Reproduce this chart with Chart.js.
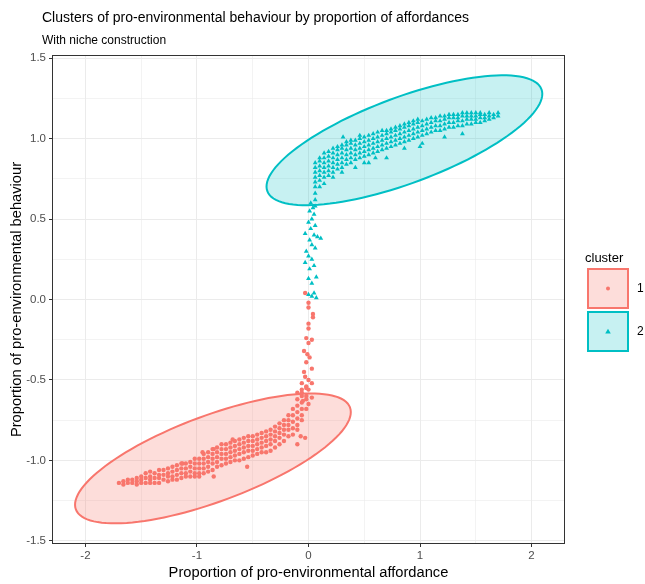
<!DOCTYPE html>
<html>
<head>
<meta charset="utf-8">
<script src="https://cdn.jsdelivr.net/npm/chart.js@4.4.1/dist/chart.umd.min.js"></script>
<style>
  html, body { margin: 0; padding: 0; background: #fff; }
  #wrap { width: 645px; height: 584px; }
</style>
</head>
<body>
<div id="wrap"><canvas id="clusterChart" width="645" height="584"></canvas></div>
<script>
// Cluster 1 (red): columns of the lower band, x then the y values in that column
const c1ColX = [-1.70, -1.66, -1.62, -1.58, -1.54, -1.50, -1.46, -1.42, -1.38, -1.34, -1.30, -1.26, -1.22, -1.18,
    -1.14, -1.10, -1.06, -1.02, -0.98, -0.94, -0.90, -0.86, -0.82, -0.78, -0.74, -0.70, -0.66, -0.62,
    -0.58, -0.54, -0.50, -0.46, -0.42, -0.38, -0.34, -0.30, -0.26, -0.22, -0.18, -0.14, -0.10, -0.06, -0.02];
const c1ColY = [
    [-1.14], [-1.13, -1.15], [-1.12, -1.14], [-1.12, -1.14], [-1.11, -1.13, -1.15], [-1.10, -1.12, -1.14],
    [-1.08, -1.11, -1.14], [-1.07, -1.10, -1.12, -1.14], [-1.08, -1.11, -1.14], [-1.06, -1.09, -1.11, -1.14],
    [-1.06, -1.09, -1.12], [-1.05, -1.08, -1.10, -1.13], [-1.04, -1.07, -1.10, -1.12], [-1.03, -1.06, -1.09, -1.12],
    [-1.02, -1.05, -1.08, -1.11], [-1.02, -1.05, -1.08, -1.10], [-1.01, -1.04, -1.07, -1.10],
    [-0.99, -1.02, -1.05, -1.08, -1.10], [-0.99, -1.02, -1.05, -1.08, -1.10], [-0.96, -0.99, -1.02, -1.05, -1.08],
    [-0.95, -0.98, -1.01, -1.04, -1.07], [-0.93, -0.96, -0.99, -1.02, -1.06], [-0.92, -0.95, -0.98, -1.01, -1.04],
    [-0.90, -0.93, -0.96, -0.99, -1.03], [-0.90, -0.93, -0.96, -0.99, -1.02], [-0.89, -0.92, -0.95, -0.98, -1.01],
    [-0.88, -0.91, -0.94, -0.97, -1.00], [-0.87, -0.90, -0.93, -0.96, -1.00], [-0.86, -0.89, -0.92, -0.95, -0.99],
    [-0.85, -0.88, -0.91, -0.94, -0.98], [-0.85, -0.88, -0.91, -0.94, -0.97], [-0.84, -0.87, -0.90, -0.93, -0.96],
    [-0.83, -0.86, -0.89, -0.92, -0.95], [-0.82, -0.85, -0.88, -0.91, -0.95], [-0.81, -0.84, -0.87, -0.90, -0.94],
    [-0.79, -0.82, -0.85, -0.88, -0.92], [-0.77, -0.80, -0.83, -0.86, -0.90], [-0.75, -0.78, -0.81, -0.84, -0.88],
    [-0.72, -0.75, -0.78, -0.81, -0.85], [-0.68, -0.72, -0.76, -0.80, -0.84],
    [-0.58, -0.62, -0.66, -0.70, -0.74, -0.78, -0.81], [-0.52, -0.56, -0.60, -0.64, -0.68, -0.72, -0.75],
    [-0.55, -0.62, -0.68]
];
// Cluster 1 stray points (stem going up to 0 and a few outliers)
const c1LooseX = [-0.03, 0.00, 0.00, 0.04, 0.04, 0.00, 0.00, -0.02, 0.03, 0.00, -0.04, -0.01, 0.01, -0.02, 0.03,
    -0.04, -0.03, 0.00, 0.03, -0.02, 0.00, -0.06, -0.02, 0.03, -0.05, 0.00,
    -0.85, -0.68, -0.85, -0.95, -1.13, -0.07, -0.10, -0.03, -0.55];
const c1LooseY = [0.04, -0.02, -0.05, -0.09, -0.11, -0.15, -0.18, -0.24, -0.25, -0.27, -0.32, -0.34, -0.36, -0.39, -0.43,
    -0.45, -0.48, -0.50, -0.52, -0.54, -0.56, -0.58, -0.60, -0.61, -0.63, -0.65,
    -1.10, -0.87, -0.93, -0.95, -1.02, -0.85, -0.90, -0.86, -1.04];

// Cluster 2 (cyan): columns of the upper band
const c2ColX = [0.06, 0.10, 0.14, 0.18, 0.22, 0.26, 0.30, 0.34, 0.38, 0.42, 0.46, 0.50, 0.54, 0.58, 0.62, 0.66,
    0.70, 0.74, 0.78, 0.82, 0.86, 0.90, 0.94, 0.98, 1.02, 1.06, 1.10, 1.14, 1.18, 1.22, 1.26, 1.30, 1.34,
    1.38, 1.42, 1.46, 1.50, 1.54, 1.58, 1.62, 1.66, 1.70];
const c2ColY = [
    [0.58, 0.62, 0.66, 0.70, 0.73, 0.76, 0.79, 0.82, 0.85], [0.70, 0.74, 0.77, 0.80, 0.83, 0.86, 0.88],
    [0.72, 0.76, 0.79, 0.82, 0.85, 0.88, 0.91], [0.77, 0.80, 0.83, 0.86, 0.89, 0.92],
    [0.76, 0.79, 0.82, 0.85, 0.88, 0.91, 0.94], [0.81, 0.84, 0.87, 0.90, 0.93, 0.95],
    [0.79, 0.82, 0.85, 0.88, 0.91, 0.94, 0.96], [0.84, 0.87, 0.90, 0.93, 0.96, 0.98],
    [0.85, 0.88, 0.91, 0.94, 0.97, 0.99], [0.82, 0.87, 0.90, 0.93, 0.96, 0.99],
    [0.88, 0.91, 0.94, 0.97, 1.00, 1.02], [0.89, 0.92, 0.95, 0.98, 1.01],
    [0.85, 0.90, 0.93, 0.96, 0.99, 1.02], [0.91, 0.94, 0.97, 1.00, 1.03],
    [0.92, 0.95, 0.98, 1.01, 1.04], [0.93, 0.96, 0.99, 1.02, 1.05],
    [0.88, 0.94, 0.97, 1.00, 1.03, 1.05], [0.95, 0.98, 1.01, 1.04, 1.06],
    [0.96, 0.99, 1.02, 1.05, 1.07], [0.97, 1.00, 1.03, 1.06, 1.08],
    [0.94, 0.98, 1.01, 1.04, 1.07, 1.09], [0.99, 1.02, 1.05, 1.08, 1.10],
    [1.00, 1.03, 1.06, 1.09, 1.11], [1.01, 1.04, 1.07, 1.10, 1.12],
    [0.97, 1.02, 1.05, 1.08, 1.11], [1.03, 1.06, 1.09, 1.12],
    [1.04, 1.07, 1.10, 1.13], [1.05, 1.08, 1.11, 1.13], [1.05, 1.08, 1.11, 1.14],
    [1.01, 1.06, 1.09, 1.12, 1.14], [1.07, 1.10, 1.13, 1.15], [1.07, 1.10, 1.13, 1.15],
    [1.08, 1.11, 1.13, 1.15], [1.03, 1.08, 1.11, 1.14, 1.16], [1.09, 1.12, 1.14, 1.16],
    [1.09, 1.12, 1.14, 1.16], [1.10, 1.12, 1.14, 1.16], [1.10, 1.13, 1.15, 1.16],
    [1.11, 1.13, 1.15], [1.12, 1.14, 1.16], [1.13, 1.15], [1.14, 1.16]
];
// Cluster 2 stray points (stem down to 0 and outliers)
const c2LooseX = [0.02, 0.04, 0.01, 0.05, 0.03, 0.00, 0.06, 0.02, -0.03, 0.05, 0.08, 0.01, 0.11, 0.03, 0.06, -0.02,
    0.00, 0.03, -0.03, 0.05, 0.01, 0.07, 0.00, 0.03, 0.00, 0.03, 0.07, 0.05,
    0.31, 1.00, 0.50, 0.60];
const c2LooseY = [0.60, 0.57, 0.55, 0.53, 0.50, 0.48, 0.46, 0.44, 0.41, 0.40, 0.39, 0.37, 0.38, 0.34, 0.32, 0.30,
    0.27, 0.25, 0.23, 0.21, 0.19, 0.14, 0.13, 0.10, 0.03, 0.02, 0.01, 0.04,
    1.01, 0.95, 0.85, 0.88];

// Ellipse outlines: centre and the two semi-axis vectors, in data units
const ellipseCx = [-0.857, 0.86];
const ellipseCy = [-0.988, 0.99];
const ellipseA = [[1.229, 0.317], [1.229, 0.317]];
const ellipseB = [[0.135, -0.250], [0.135, -0.250]];

const xTicks = [-2, -1, 0, 1, 2];
const yTicks = [-1.5, -1.0, -0.5, 0.0, 0.5, 1.0, 1.5];

const RED = '#F8766D';
const CYAN = '#00BFC4';
const FILLS = ['rgba(248,118,109,0.25)', 'rgba(0,191,196,0.22)'];
const LINES = [RED, CYAN];
const FONT = '"Liberation Sans", Arial, sans-serif';

function toPoints(colX, colY, looseX, looseY) {
    const pts = [];
    colX.forEach((x, i) => colY[i].forEach(y => pts.push({ x: x, y: y })));
    looseX.forEach((x, i) => pts.push({ x: x, y: looseY[i] }));
    return pts;
}

const isMajor = (v, step) => Math.abs(v / step - Math.round(v / step)) < 1e-6;

// ellipses drawn through the chart scales, then frame, titles and legend
const decorPlugin = {
    id: 'decor',
    afterDatasetsDraw(chart) {
        const { ctx, chartArea, scales } = chart;
        ctx.save();
        ctx.beginPath();
        ctx.rect(chartArea.left, chartArea.top, chartArea.right - chartArea.left, chartArea.bottom - chartArea.top);
        ctx.clip();
        for (let k = 0; k < ellipseCx.length; k++) {
            ctx.beginPath();
            for (let i = 0; i <= 120; i++) {
                const t = i / 120 * Math.PI * 2;
                const dx = ellipseCx[k] + ellipseA[k][0] * Math.cos(t) + ellipseB[k][0] * Math.sin(t);
                const dy = ellipseCy[k] + ellipseA[k][1] * Math.cos(t) + ellipseB[k][1] * Math.sin(t);
                const px = scales.x.getPixelForValue(dx);
                const py = scales.y.getPixelForValue(dy);
                if (i === 0) ctx.moveTo(px, py); else ctx.lineTo(px, py);
            }
            ctx.closePath();
            ctx.fillStyle = FILLS[k];
            ctx.fill();
            ctx.strokeStyle = LINES[k];
            ctx.lineWidth = 2;
            ctx.stroke();
        }
        ctx.restore();
    },
    afterDraw(chart) {
        const { ctx, chartArea } = chart;
        ctx.save();
        // panel border
        ctx.strokeStyle = '#333333';
        ctx.lineWidth = 1;
        ctx.strokeRect(chartArea.left + 0.5, chartArea.top + 0.5,
            chartArea.right - chartArea.left - 1, chartArea.bottom - chartArea.top - 1);

        // titles
        ctx.fillStyle = '#000';
        ctx.textBaseline = 'alphabetic';
        ctx.textAlign = 'left';
        ctx.font = '14px ' + FONT;
        ctx.fillText('Clusters of pro-environmental behaviour by proportion of affordances', 42, 22);
        ctx.font = '12px ' + FONT;
        ctx.fillText('With niche construction', 42, 44);

        // legend
        ctx.font = '13px ' + FONT;
        ctx.fillText('cluster', 585, 262);
        const boxes = [[588, 269], [588, 312]];
        boxes.forEach((b, k) => {
            ctx.fillStyle = FILLS[k];
            ctx.fillRect(b[0], b[1], 40, 39);
            ctx.strokeStyle = LINES[k];
            ctx.lineWidth = 2;
            ctx.strokeRect(b[0], b[1], 40, 39);
            ctx.fillStyle = LINES[k];
            const cx = b[0] + 20, cy = b[1] + 19.5;
            ctx.beginPath();
            if (k === 0) {
                ctx.arc(cx, cy, 2, 0, Math.PI * 2);
            } else {
                ctx.moveTo(cx, cy - 2.8);
                ctx.lineTo(cx + 2.8, cy + 2);
                ctx.lineTo(cx - 2.8, cy + 2);
                ctx.closePath();
            }
            ctx.fill();
            ctx.fillStyle = '#000';
            ctx.font = '12px ' + FONT;
            ctx.textBaseline = 'middle';
            ctx.fillText(String(k + 1), 637, cy);
            ctx.textBaseline = 'alphabetic';
        });
        ctx.restore();
    }
};

function renderChart() {
    const ctx = document.getElementById('clusterChart').getContext('2d');
    new Chart(ctx, {
        type: 'scatter',
        data: {
            datasets: [{
                label: '1',
                data: toPoints(c1ColX, c1ColY, c1LooseX, c1LooseY),
                pointStyle: 'circle',
                pointRadius: 2.2,
                backgroundColor: RED,
                borderWidth: 0
            }, {
                label: '2',
                data: toPoints(c2ColX, c2ColY, c2LooseX, c2LooseY),
                pointStyle: 'triangle',
                pointRadius: 2.8,
                backgroundColor: CYAN,
                borderWidth: 0
            }]
        },
        options: {
            responsive: false,
            animation: false,
            layout: { padding: { left: 0, top: 55, right: 80, bottom: 0 } },
            plugins: {
                legend: { display: false },
                tooltip: { enabled: false }
            },
            scales: {
                x: {
                    type: 'linear',
                    min: -2.3,
                    max: 2.3,
                    afterBuildTicks: s => { s.ticks = [-2, -1.5, -1, -0.5, 0, 0.5, 1, 1.5, 2].map(v => ({ value: v })); },
                    afterFit: s => { s.height = 40; },
                    border: { display: false },
                    grid: {
                        color: '#ebebeb',
                        lineWidth: c => isMajor(c.tick.value, 1) ? 1 : 0.6,
                        tickColor: c => isMajor(c.tick.value, 1) ? '#333333' : 'rgba(0,0,0,0)',
                        tickLength: 3
                    },
                    ticks: {
                        color: '#4d4d4d',
                        font: { family: FONT, size: 11.5 },
                        padding: 2,
                        maxRotation: 0,
                        autoSkip: false,
                        callback: v => xTicks.includes(v) ? String(v) : ''
                    },
                    title: {
                        display: true,
                        text: 'Proportion of pro-environmental affordance',
                        color: '#000',
                        font: { family: FONT, size: 14.7 },
                        padding: { top: 0, bottom: 2 }
                    }
                },
                y: {
                    type: 'linear',
                    min: -1.52,
                    max: 1.52,
                    afterBuildTicks: s => {
                        const t = [];
                        for (let i = -6; i <= 6; i++) t.push({ value: i * 0.25 });
                        s.ticks = t;
                    },
                    afterFit: s => { s.width = 52; },
                    border: { display: false },
                    grid: {
                        color: '#ebebeb',
                        lineWidth: c => isMajor(c.tick.value, 0.5) ? 1 : 0.6,
                        tickColor: c => isMajor(c.tick.value, 0.5) ? '#333333' : 'rgba(0,0,0,0)',
                        tickLength: 3
                    },
                    ticks: {
                        color: '#4d4d4d',
                        font: { family: FONT, size: 11.5 },
                        padding: 3,
                        autoSkip: false,
                        callback: v => yTicks.some(t => Math.abs(t - v) < 1e-6) ? v.toFixed(1) : ''
                    },
                    title: {
                        display: true,
                        text: 'Proportion of pro-environmental behaviour',
                        color: '#000',
                        font: { family: FONT, size: 14.7 },
                        padding: { top: 8, bottom: 0 }
                    }
                }
            }
        },
        plugins: [decorPlugin]
    });
}

window.onload = renderChart;
</script>
</body>
</html>
